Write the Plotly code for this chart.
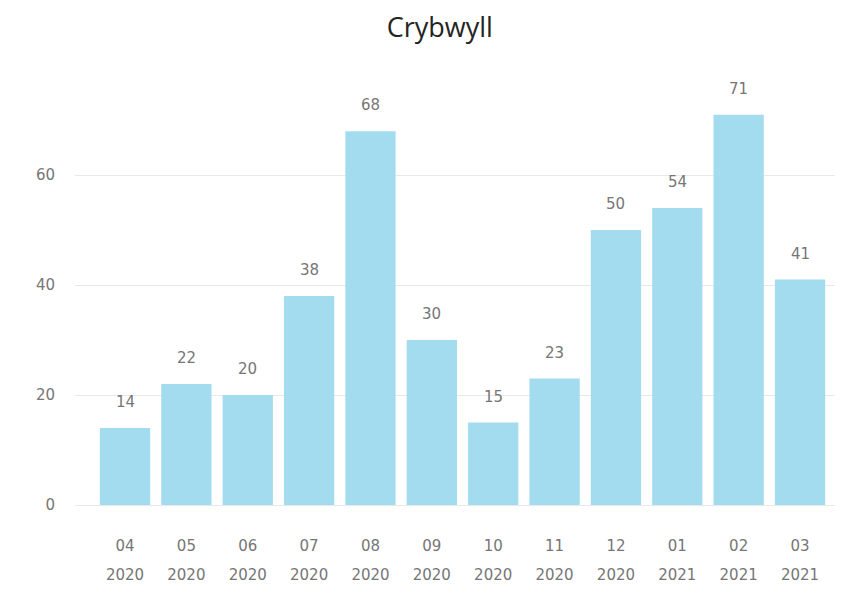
import plotly.graph_objects as go

months = ["04", "05", "06", "07", "08", "09", "10", "11", "12", "01", "02", "03"]
years = ["2020"] * 9 + ["2021"] * 3
counts = [14, 22, 20, 38, 68, 30, 15, 23, 50, 54, 71, 41]
y_ticks = [0, 20, 40, 60]

idx = list(range(len(counts)))
bar_col = "#A4DCEF"
grey = "#767676"
lab_font = dict(family="DejaVu Sans", size=15, color=grey)

fig = go.Figure()
fig.add_trace(go.Bar(
    x=idx, y=counts, marker_color=bar_col, marker_line_width=0,
    hoverinfo="skip",
))
# invisible trace so the year axis gets drawn
fig.add_trace(go.Scatter(x=idx, y=counts, xaxis="x2", mode="markers",
                         marker=dict(opacity=0), hoverinfo="skip", showlegend=False))

# value labels above bars
for i, v in zip(idx, counts):
    fig.add_annotation(x=i, y=v, text=str(v), showarrow=False,
                       yanchor="bottom", yshift=15,
                       font=dict(family="DejaVu Sans", size=15, color=grey))

# page body has an 8px margin, so the figure is 840x581
xr = [-0.815, 11.57]
fig.update_layout(
    width=840, height=581,
    margin=dict(l=67, r=13, t=72, b=84, autoexpand=False),
    paper_bgcolor="white", plot_bgcolor="white",
    showlegend=False, bargap=0.18,
    title=dict(text="Crybwyll", x=0.514, xanchor="center", y=0.9656, yanchor="middle",
               font=dict(family="Open Sans", size=27, color="#252423")),
    xaxis=dict(range=xr, tickmode="array", tickvals=idx, ticktext=months,
               showgrid=False, zeroline=False, showline=False, ticks="",
               automargin=False, ticklabelstandoff=30, tickfont=lab_font),
    xaxis2=dict(range=xr, overlaying="x", side="bottom", anchor="y",
                tickmode="array", tickvals=idx, ticktext=years,
                showgrid=False, zeroline=False, showline=False, ticks="",
                automargin=False, ticklabelstandoff=59, tickfont=lab_font),
    yaxis=dict(range=[0, 77.3], tickmode="array", tickvals=y_ticks,
               showgrid=True, gridcolor="#E8E8E8", gridwidth=1,
               zeroline=True, zerolinecolor="#E8E8E8", zerolinewidth=1,
               ticks="", automargin=False, ticklabelstandoff=19,
               tickfont=lab_font),
)

fig.write_html("out.html")
